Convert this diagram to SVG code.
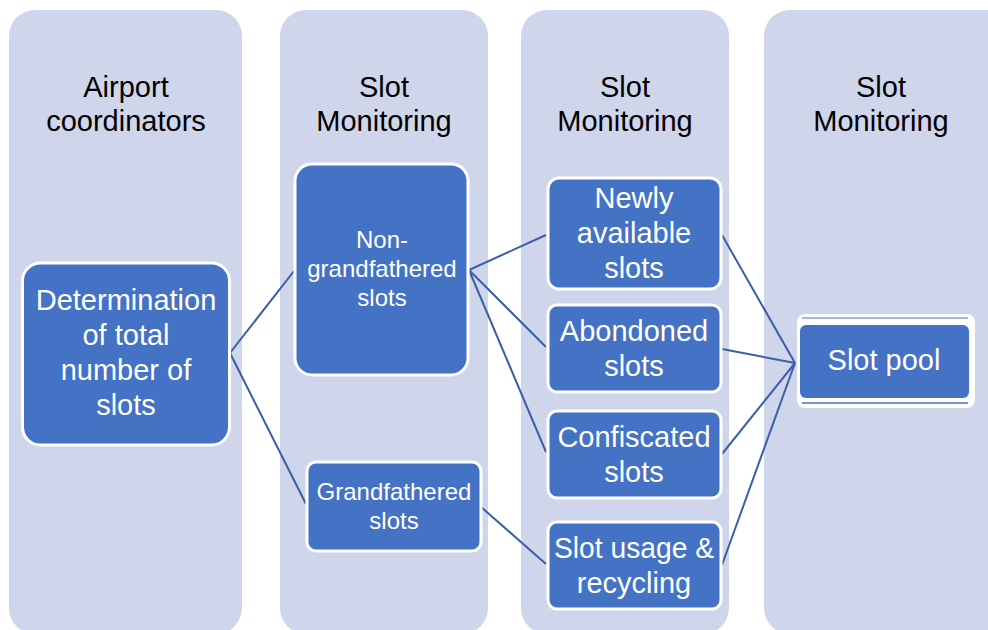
<svg xmlns="http://www.w3.org/2000/svg" width="988" height="630" viewBox="0 0 988 630">
  <style>
    .lane { fill: #CFD5EA; }
    .head { font-family: "Liberation Sans", Arial, sans-serif; font-size: 29px; fill: #000; text-anchor: middle; }
    .box { fill: #4472C4; stroke: #FFFFFF; stroke-width: 3; }
    .lbl { font-family: "Liberation Sans", Arial, sans-serif; font-size: 29px; fill: #FFFFFF; text-anchor: middle; }
    .sm { font-size: 24px; }
    .link { stroke: #3A5FA8; stroke-width: 2; fill: none; }
  </style>

  <rect width="988" height="630" fill="#FFFFFF"/>

  <!-- swim lanes -->
  <g id="lanes">
    <rect class="lane" x="9" y="10" width="233" height="624" rx="26"/>
    <rect class="lane" x="280" y="10" width="208" height="624" rx="26"/>
    <rect class="lane" x="521" y="10" width="208" height="624" rx="26"/>
    <rect class="lane" x="764" y="10" width="260" height="624" rx="26"/>
    <text class="head" x="126" y="97">Airport</text>
    <text class="head" x="126" y="131">coordinators</text>
    <text class="head" x="384" y="97">Slot</text>
    <text class="head" x="384" y="131">Monitoring</text>
    <text class="head" x="625" y="97">Slot</text>
    <text class="head" x="625" y="131">Monitoring</text>
    <text class="head" x="881" y="97">Slot</text>
    <text class="head" x="881" y="131">Monitoring</text>
  </g>

  <!-- connectors -->
  <g id="connectors">
    <line class="link" x1="230" y1="353" x2="294" y2="271"/>
    <line class="link" x1="230" y1="353" x2="306" y2="504"/>
    <line class="link" x1="469" y1="270" x2="546" y2="235"/>
    <line class="link" x1="469" y1="270" x2="546" y2="347"/>
    <line class="link" x1="469" y1="270" x2="546" y2="452"/>
    <line class="link" x1="481" y1="507" x2="546" y2="564"/>
    <line class="link" x1="722" y1="235" x2="795" y2="363"/>
    <line class="link" x1="722" y1="349" x2="795" y2="363"/>
    <line class="link" x1="722" y1="454" x2="795" y2="363"/>
    <line class="link" x1="722" y1="565" x2="795" y2="363"/>
  </g>

  <g id="determination">
    <rect class="box" x="22.5" y="263" width="207" height="182" rx="18"/>
    <text class="lbl" x="126" y="310">Determination</text>
    <text class="lbl" x="126" y="345">of total</text>
    <text class="lbl" x="126" y="380">number of</text>
    <text class="lbl" x="126" y="415">slots</text>
  </g>

  <g id="non-grandfathered">
    <rect class="box" x="295" y="164" width="173" height="211" rx="17"/>
    <text class="lbl sm" x="382" y="248">Non-</text>
    <text class="lbl sm" x="382" y="277">grandfathered</text>
    <text class="lbl sm" x="382" y="306">slots</text>
  </g>

  <g id="grandfathered">
    <rect class="box" x="307" y="462" width="174" height="89" rx="9"/>
    <text class="lbl sm" x="394" y="500">Grandfathered</text>
    <text class="lbl sm" x="394" y="529">slots</text>
  </g>

  <g id="newly-available">
    <rect class="box" x="548" y="178" width="173" height="111" rx="11"/>
    <text class="lbl" x="634" y="208">Newly</text>
    <text class="lbl" x="634" y="243">available</text>
    <text class="lbl" x="634" y="278">slots</text>
  </g>

  <g id="abondoned">
    <rect class="box" x="548" y="305" width="173" height="87" rx="9"/>
    <text class="lbl" x="634" y="341">Abondoned</text>
    <text class="lbl" x="634" y="376">slots</text>
  </g>

  <g id="confiscated">
    <rect class="box" x="548" y="411" width="173" height="87" rx="9"/>
    <text class="lbl" x="634" y="447">Confiscated</text>
    <text class="lbl" x="634" y="482">slots</text>
  </g>

  <g id="slot-usage">
    <rect class="box" x="548" y="522" width="173" height="87" rx="9"/>
    <text class="lbl" x="634" y="558" textLength="160" lengthAdjust="spacingAndGlyphs">Slot usage &amp;</text>
    <text class="lbl" x="634" y="593">recycling</text>
  </g>

  <g id="slot-pool">
    <rect x="797" y="314" width="178" height="94" rx="8" fill="#FFFFFF"/>
    <line x1="802" y1="318" x2="968" y2="318" stroke="#4472C4" stroke-width="1"/>
    <line x1="802" y1="403" x2="968" y2="403" stroke="#4472C4" stroke-width="1.5"/>
    <rect x="800" y="325" width="169" height="73" rx="6" fill="#4472C4"/>
    <text class="lbl" x="884" y="370">Slot pool</text>
  </g>
</svg>
